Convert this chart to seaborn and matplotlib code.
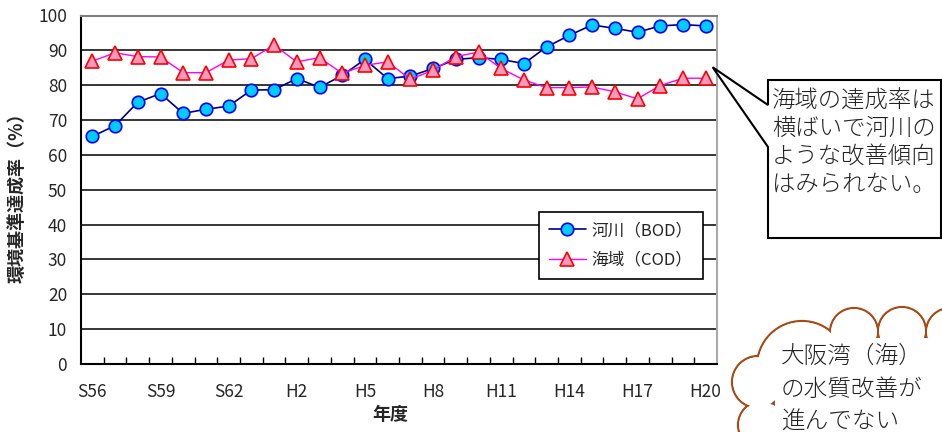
import numpy as np
import pandas as pd
import matplotlib
matplotlib.use("Agg")
import matplotlib.pyplot as plt
import seaborn as sns
from matplotlib.patches import Polygon, Circle, Rectangle
from matplotlib.ticker import FixedLocator

# fiscal years S56 (1981) .. H20 (2008)
years = ["S56", "S57", "S58", "S59", "S60", "S61", "S62", "S63",
         "H1", "H2", "H3", "H4", "H5", "H6", "H7", "H8", "H9", "H10",
         "H11", "H12", "H13", "H14", "H15", "H16", "H17", "H18", "H19", "H20"]
river_bod = [65.3, 68.4, 75.1, 77.6, 71.9, 73.1, 74.0, 78.6, 78.7, 81.9,
             79.4, 82.8, 87.4, 81.9, 82.6, 84.8, 87.4, 87.9, 87.4, 86.2,
             91.0, 94.3, 97.3, 96.3, 95.2, 97.0, 97.4, 97.0]
sea_cod = [86.9, 89.3, 88.2, 88.1, 83.6, 83.6, 87.2, 87.6, 91.5, 86.7,
           87.9, 83.4, 85.7, 86.7, 81.7, 84.3, 88.2, 89.5, 84.8, 81.5,
           79.3, 79.3, 79.5, 78.1, 76.1, 79.9, 82.0, 82.0]
tick_years = ["S56", "S59", "S62", "H2", "H5", "H8", "H11", "H14", "H17", "H20"]

label_bod = "河川（BOD）"
label_cod = "海域（COD）"

callout_lines = ["海域の達成率は", "横ばいで河川の", "ような改善傾向", "はみられない。"]
cloud_lines = ["大阪湾（海）", "の水質改善が", "進んでない"]

sns.set_style("white")
plt.rcParams['font.family'] = ['Noto Sans CJK JP', 'DejaVu Sans']

df = pd.DataFrame({"pos": np.arange(len(years)), "year": years,
                   "bod": river_bod, "cod": sea_cod})

W, H = 942, 432
fig = plt.figure(figsize=(W / 100, H / 100), dpi=100)
ax = fig.add_axes([81 / W, 1 - 364 / H, 636 / W, 348.5 / H])

sns.lineplot(data=df, x="pos", y="bod", ax=ax, color="#000080", lw=1.2,
             marker="o", markersize=9, markerfacecolor="#00ccff",
             markeredgecolor="#0000ff", markeredgewidth=1.2,
             label=label_bod, zorder=3)
sns.lineplot(data=df, x="pos", y="cod", ax=ax, color="#ff00ff", lw=1.0,
             marker="^", markersize=10.5, markerfacecolor="#f59abf",
             markeredgecolor="#ff0000", markeredgewidth=1.2,
             label=label_cod, zorder=4)

# axes, ticks, grid
ax.set_xlim(-0.5, len(years) - 0.5)
ax.set_ylim(0, 100)
ax.set_xticks([years.index(t) for t in tick_years])
ax.set_xticklabels(tick_years)
ax.xaxis.set_minor_locator(FixedLocator(np.arange(0.5, len(years) - 1, 1)))
ax.set_yticks(range(0, 101, 10))
ax.tick_params(axis="x", which="major", length=0, pad=14, labelsize=12.5)
ax.tick_params(axis="x", which="minor", bottom=True, direction="in",
               length=5, width=1, color="black")
ax.tick_params(axis="y", length=0, pad=10, labelsize=12.5)
ax.yaxis.grid(True, color="black", lw=1.1)
ax.xaxis.grid(False)
ax.set_axisbelow(True)

for side in ["left", "bottom"]:
    ax.spines[side].set_color("black")
    ax.spines[side].set_linewidth(1.5)
ax.spines["top"].set_color("#808080")
ax.spines["right"].set_color("#aaaaaa")
ax.spines["top"].set_linewidth(1.5)
ax.spines["right"].set_linewidth(1.5)

ax.set_xlabel("年度", fontsize=13, fontweight="bold")
ax.set_ylabel("環境基準達成率（%）", fontsize=13, fontweight="bold")
ax.xaxis.set_label_coords(0.486, -0.118)
ax.yaxis.set_label_coords(-0.085, 0.49)

leg = ax.legend(loc="upper left", bbox_to_anchor=(0.72, 0.436),
                borderaxespad=0, fontsize=12, frameon=True, fancybox=False,
                edgecolor="black", framealpha=1, handlelength=2.2,
                handletextpad=0.35, labelspacing=0.75, borderpad=0.6)
leg.get_frame().set_linewidth(1.2)

# overlay in pixel coordinates for the callouts
ov = fig.add_axes([0, 0, 1, 1], zorder=10)
ov.set_xlim(0, W)
ov.set_ylim(H, 0)
ov.axis("off")
ov.patch.set_alpha(0)

fig.canvas.draw()
px, py = ax.transData.transform((len(years) - 1, sea_cod[-1]))
apex = (px + 7, H - py - 11)

bubble = Polygon([(768, 80), (941, 80), (941, 238), (768, 238), (768, 147),
                  apex, (768, 105)], closed=True, facecolor="white",
                 edgecolor="black", lw=1.5)
ov.add_patch(bubble)
for i, line in enumerate(callout_lines):
    ov.text(772, 101 + i * 27.7, line, fontsize=16.8, va="center", ha="left",
            color="#222222", fontweight="light")

# cloud
cloud_color = "#a84a16"
bumps = [(762, 425, 24), (758, 382, 26), (802, 366, 45),
         (854, 332, 24), (902, 331, 24), (950, 332, 24)]
for cx, cy, r in bumps:
    ov.add_patch(Circle((cx, cy), r, facecolor="white",
                        edgecolor=cloud_color, lw=1.6, zorder=1))
for cx, cy, r in bumps:
    ov.add_patch(Circle((cx, cy), r - 1.2, facecolor="white",
                        edgecolor="none", zorder=2))
ov.add_patch(Rectangle((775, 338), 170, 100, facecolor="white",
                       edgecolor="none", zorder=2))
for i, line in enumerate(cloud_lines):
    ov.text(781, 356 + i * 33, line, fontsize=17, va="center", ha="left",
            color="#222222", zorder=3, fontweight="light")

fig.savefig("out.png", dpi=100)
